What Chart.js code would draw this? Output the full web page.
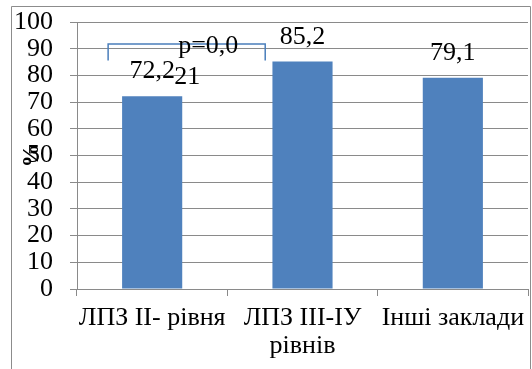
<!DOCTYPE html>
<html>
<head>
<meta charset="utf-8">
<script src="https://cdn.jsdelivr.net/npm/chart.js@4/dist/chart.umd.min.js"></script>
<style>
  html, body { margin: 0; padding: 0; background: #ffffff; }
  #wrap { width: 532px; height: 369px; position: relative; }
</style>
</head>
<body>
<div id="wrap"><canvas id="c" width="532" height="369"></canvas></div>
<script>
// ---- data ----
const categories = [["ЛПЗ ІІ- рівня"], ["ЛПЗ ІІІ-ІУ", "рівнів"], ["Інші заклади"]];
const values = [72.2, 85.2, 79.1];
const valueLabels = ["72,2", "85,2", "79,1"];
const yTicks = [0, 10, 20, 30, 40, 50, 60, 70, 80, 90, 100];
const axisTitle = "%";
const pText1 = "p=0,0";
const pText2 = "21";

const SERIF = "'Liberation Serif', 'Times New Roman', serif";
const GRID = "#8a8a8a";
const FS = 26;

const framePlugin = {
  id: 'frame',
  beforeDraw(chart) {
    const ctx = chart.ctx;
    ctx.save();
    ctx.fillStyle = '#ffffff';
    ctx.fillRect(0, 0, chart.width, chart.height);
    ctx.strokeStyle = '#8c8c8c';
    ctx.lineWidth = 1;
    ctx.beginPath();
    ctx.moveTo(11.5, chart.height + 2);
    ctx.lineTo(11.5, 6.5);
    ctx.lineTo(530.5, 6.5);
    ctx.lineTo(530.5, chart.height + 2);
    ctx.stroke();
    ctx.restore();
  }
};

const labelPlugin = {
  id: 'vlabels',
  afterDatasetsDraw(chart) {
    const ctx = chart.ctx;
    const meta = chart.getDatasetMeta(0);
    ctx.save();
    ctx.font = FS + "px " + SERIF;
    ctx.fillStyle = '#000';
    ctx.textAlign = 'center';
    ctx.textBaseline = 'alphabetic';
    meta.data.forEach((bar, i) => {
      ctx.fillText(valueLabels[i], bar.x, bar.y - 18);
    });
    // significance bracket (in data space)
    const xs = chart.scales.x, ys = chart.scales.y;
    const xl = xs.getPixelForValue(-0.293), xr = xs.getPixelForValue(0.752);
    const yt = ys.getPixelForValue(91.8), yb = ys.getPixelForValue(85.6);
    ctx.strokeStyle = '#4a7ebb';
    ctx.lineWidth = 1.5;
    ctx.beginPath();
    ctx.moveTo(xl, yb); ctx.lineTo(xl, yt); ctx.lineTo(xr, yt); ctx.lineTo(xr, yb);
    ctx.stroke();
    ctx.textBaseline = 'middle';
    ctx.fillText(pText1, xs.getPixelForValue(0.373), ys.getPixelForValue(91.0));
    ctx.fillText(pText2, xs.getPixelForValue(0.233), ys.getPixelForValue(79.5));
    ctx.restore();
  }
};

new Chart(document.getElementById('c'), {
  type: 'bar',
  data: {
    labels: categories,
    datasets: [{
      data: values,
      backgroundColor: '#4f81bd',
      borderWidth: 0,
      barPercentage: 0.4,
      categoryPercentage: 1.0
    }]
  },
  options: {
    responsive: false,
    animation: false,
    devicePixelRatio: 1,
    layout: { padding: { left: 12, right: 4, top: 22, bottom: 0 } },
    plugins: { legend: { display: false }, tooltip: { enabled: false }, title: { display: false } },
    scales: {
      x: {
        grid: { display: true, drawOnChartArea: false, drawTicks: true, tickLength: 7, color: GRID, offset: true },
        border: { display: true, color: GRID, width: 1 },
        ticks: { color: '#000', font: { family: SERIF, size: FS, lineHeight: 1.08 }, padding: 8, maxRotation: 0, autoSkip: false },
        afterFit(scale) { scale.height = 80; scale.paddingLeft = 0; scale.paddingRight = 0; }
      },
      y: {
        min: 0, max: 100,
        afterBuildTicks(scale) { scale.ticks = yTicks.map(v => ({ value: v })); },
        grid: { color: GRID, lineWidth: 1, tickLength: 7, drawTicks: true },
        border: { display: true, color: GRID, width: 1 },
        ticks: { color: '#000', font: { family: SERIF, size: FS }, padding: 17, autoSkip: false },
        title: { display: true, text: axisTitle, color: '#000', font: { family: SERIF, size: 24, weight: 'bold' }, padding: { top: 5, bottom: 0 } },
        afterFit(scale) { scale.width = 65; scale.paddingTop = 0; scale.paddingBottom = 0; }
      }
    }
  },
  plugins: [framePlugin, labelPlugin]
});
</script>
</body>
</html>
